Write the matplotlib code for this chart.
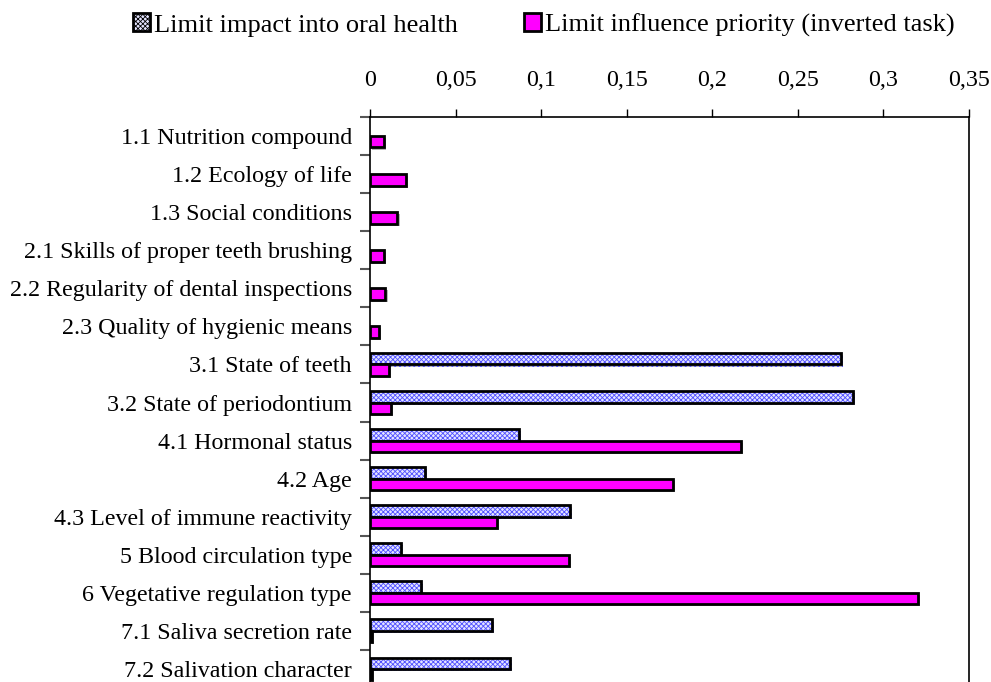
import matplotlib
matplotlib.use("Agg")
from matplotlib import pyplot as plt
from matplotlib.patches import Rectangle
from matplotlib.ticker import FuncFormatter, FixedLocator
import matplotlib.patheffects as pe

categories = [
    "1.1 Nutrition compound",
    "1.2 Ecology of life",
    "1.3 Social conditions",
    "2.1 Skills of proper teeth brushing",
    "2.2 Regularity of dental inspections",
    "2.3 Quality of hygienic means",
    "3.1 State of teeth",
    "3.2 State of periodontium",
    "4.1 Hormonal status",
    "4.2 Age",
    "4.3 Level of immune reactivity",
    "5 Blood circulation type",
    "6 Vegetative regulation type",
    "7.1 Saliva secretion rate",
    "7.2 Salivation character",
]
impact = [0, 0, 0, 0, 0, 0, 0.275, 0.282, 0.087, 0.032, 0.117, 0.018, 0.030, 0.071, 0.082]
priority = [0.008, 0.021, 0.016, 0.008, 0.009, 0.005, 0.011, 0.012, 0.217, 0.177, 0.074, 0.116, 0.320, 0.001, 0.001]
impact_label = "Limit impact into oral health"
priority_label = "Limit influence priority (inverted task)"

plt.rcParams["font.family"] = ["Liberation Serif", "DejaVu Serif"]
plt.rcParams["hatch.color"] = "#5050ff"
plt.rcParams["hatch.linewidth"] = 0.6

fig = plt.figure(figsize=(9.91, 6.82), dpi=100)
ax = fig.add_axes([0.3734, -0.0088, 0.6044, 0.8372])

h = 0.3
pos = list(range(len(categories)))
shadow = [pe.SimplePatchShadow(offset=(1.5, -1.5), shadow_rgbFace="#999999", alpha=0.7), pe.Normal()]

blue_pos = [p - h / 2 for p in pos]
red_pos = [p + h / 2 for p in pos]
hb = ax.barh(blue_pos, impact, height=h, color="#e4e4ff", hatch="xxxxxxx", linewidth=0)
for b, v in zip(hb, impact):
    if v > 0:
        b.set_path_effects(shadow)
    else:
        b.set_visible(False)
ob = ax.barh(blue_pos, impact, height=h, fill=False, edgecolor="black", linewidth=2)
for b, v in zip(ob, impact):
    if v <= 0:
        b.set_visible(False)
rb = ax.barh(red_pos, priority, height=h, color="#ff00ff", edgecolor="black", linewidth=2)
for b in rb:
    b.set_path_effects(shadow)

ax.set_xlim(0, 0.35)
ax.set_ylim(len(categories) - 0.5, -0.5)
ax.xaxis.tick_top()
ax.set_xticks([0, 0.05, 0.1, 0.15, 0.2, 0.25, 0.3, 0.35])
ax.xaxis.set_major_formatter(FuncFormatter(lambda v, p: ("%g" % round(v, 2)).replace(".", ",")))
ax.tick_params(axis="x", direction="out", length=6, width=1, pad=13, labelsize=17.3)

ax.yaxis.set_major_locator(FixedLocator([p + 0.5 for p in pos[:-1]] + [-0.5]))
ax.yaxis.set_major_formatter(FuncFormatter(lambda v, p: ""))
ax.yaxis.set_minor_locator(FixedLocator(pos))
ax.set_yticklabels(categories, minor=True)
ax.tick_params(axis="y", which="major", direction="out", length=7, width=1.5, color="#555555")
ax.tick_params(axis="y", which="minor", length=0, pad=13, labelsize=17.3)

for s in ["top", "left", "right"]:
    ax.spines[s].set_linewidth(1.2)
ax.spines["bottom"].set_visible(False)

handles = [
    Rectangle((0, 0), 1, 1, facecolor="#e4e4ff", hatch="xxxxxxx", edgecolor="black", linewidth=2),
    Rectangle((0, 0), 1, 1, facecolor="#ff00ff", edgecolor="black", linewidth=2),
]
leg = fig.legend(handles, [impact_label, priority_label], loc="center", bbox_to_anchor=(0.549, 0.963),
                 ncol=2, frameon=False, fontsize=19, handlelength=0.65, handleheight=0.65,
                 handletextpad=0.15, columnspacing=2.5)

fig.savefig("out.png", dpi=100)
